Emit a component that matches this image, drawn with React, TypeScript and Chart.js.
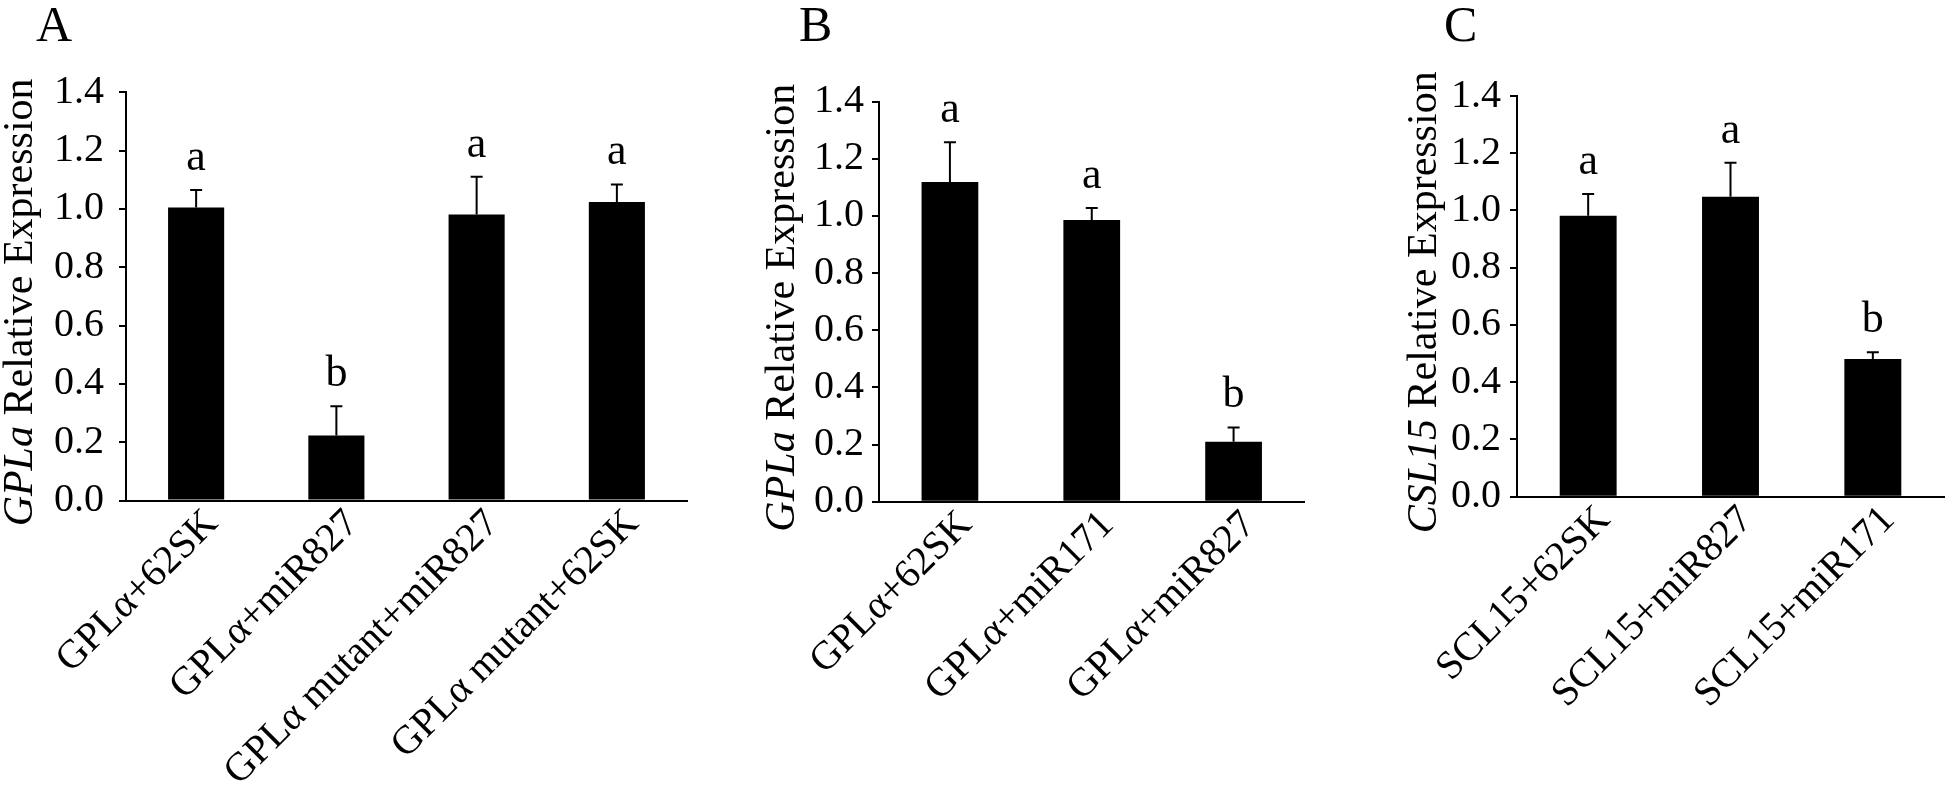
import React, { useEffect, useRef } from "react";
import { Chart, registerables } from "chart.js";

Chart.register(...registerables);

const FONT = "'Liberation Serif', 'Times New Roman', serif";

// ---- data ----
const yTickLabels = ["0.0", "0.2", "0.4", "0.6", "0.8", "1.0", "1.2", "1.4"];

const catsA = ["GPLα+62SK", "GPLα+miR827", "GPLα mutant+miR827", "GPLα mutant+62SK"];
const valsA = [1.005, 0.223, 0.981, 1.024];
const errA = [0.06, 0.1, 0.129, 0.06];
const sigA = ["a", "b", "a", "a"];

const catsB = ["GPLα+62SK", "GPLα+miR171", "GPLα+miR827"];
const valsB = [1.119, 0.986, 0.21];
const errB = [0.139, 0.042, 0.05];
const sigB = ["a", "a", "b"];

const catsC = ["SCL15+62SK", "SCL15+miR827", "SCL15+miR171"];
const valsC = [0.982, 1.048, 0.481];
const errC = [0.076, 0.119, 0.024];
const sigC = ["a", "a", "b"];

const titleA = [{ t: "GPLa", it: true }, { t: " Relative Expression", it: false }];
const titleB = [{ t: "GPLa", it: true }, { t: " Relative Expression", it: false }];
const titleC = [{ t: "CSL15", it: true }, { t: " Relative Expression", it: false }];

type Panel = {
  letter: string;
  cats: string[];
  vals: number[];
  errs: number[];
  sig: string[];
  title: { t: string; it: boolean }[];
  left: number;
  width: number;
  chartLeft: number;
  chartRight: number;
  chartTop: number;
  chartBottom: number;
  tickPad: number;
  titleX: number;
  letterX: number;
};

const H = 788;

const panels: Panel[] = [
  { letter: "A", cats: catsA, vals: valsA, errs: errA, sig: sigA, title: titleA,
    left: 0, width: 700, chartLeft: 126, chartRight: 687, chartTop: 92.3, chartBottom: 500.5,
    tickPad: 15, titleX: 32, letterX: 36 },
  { letter: "B", cats: catsB, vals: valsB, errs: errB, sig: sigB, title: titleB,
    left: 700, width: 640, chartLeft: 179, chartRight: 604.5, chartTop: 101.7, chartBottom: 501.7,
    tickPad: 8, titleX: 94, letterX: 99 },
  { letter: "C", cats: catsC, vals: valsC, errs: errC, sig: sigC, title: titleC,
    left: 1340, width: 606, chartLeft: 177, chartRight: 604, chartTop: 96, chartBottom: 496.7,
    tickPad: 9, titleX: 96, letterX: 104 },
];

function PanelChart({ p }: { p: Panel }) {
  const ref = useRef<HTMLCanvasElement | null>(null);
  useEffect(() => {
    if (!ref.current) return;
    const decor = {
      id: "decor",
      afterDatasetsDraw(chart: any) {
        const ctx = chart.ctx;
        const xs = chart.scales.x;
        const ys = chart.scales.y;
        ctx.save();
        ctx.strokeStyle = "#000";
        ctx.lineWidth = 2;
        p.vals.forEach((v, i) => {
          const x = xs.getPixelForValue(i);
          const y0 = ys.getPixelForValue(v);
          const y1 = ys.getPixelForValue(v + p.errs[i]);
          ctx.beginPath();
          ctx.moveTo(x, y0);
          ctx.lineTo(x, y1);
          ctx.moveTo(x - 6, y1);
          ctx.lineTo(x + 6, y1);
          ctx.stroke();
          ctx.fillStyle = "#000";
          ctx.font = `44px ${FONT}`;
          ctx.textAlign = "center";
          ctx.textBaseline = "alphabetic";
          ctx.fillText(p.sig[i], x, y1 - 20);
        });
        ctx.restore();
      },
      afterDraw(chart: any) {
        const ctx = chart.ctx;
        const area = chart.chartArea;
        ctx.save();
        ctx.fillStyle = "#000";
        // panel letter
        ctx.font = `50px ${FONT}`;
        ctx.textAlign = "left";
        ctx.textBaseline = "alphabetic";
        ctx.fillText(p.letter, p.letterX, 41);
        // y title (mixed italic)
        const cy = (area.top + area.bottom) / 2 + 6;
        ctx.translate(p.titleX, cy);
        ctx.rotate(-Math.PI / 2);
        let total = 0;
        const widths = p.title.map((part) => {
          ctx.font = `${part.it ? "italic " : ""}42px ${FONT}`;
          const w = ctx.measureText(part.t).width;
          total += w;
          return w;
        });
        let x = -total / 2;
        p.title.forEach((part, i) => {
          ctx.font = `${part.it ? "italic " : ""}42px ${FONT}`;
          ctx.fillText(part.t, x, 0);
          x += widths[i];
        });
        ctx.restore();
      },
    };

    const chart = new Chart(ref.current, {
      type: "bar",
      data: {
        labels: p.cats,
        datasets: [
          {
            data: p.vals,
            backgroundColor: "#000",
            borderWidth: 0,
            barPercentage: 0.4,
            categoryPercentage: 1.0,
          },
        ],
      },
      options: {
        responsive: false,
        maintainAspectRatio: false,
        animation: false,
        devicePixelRatio: 1,
        layout: {
          padding: { left: 0, top: p.chartTop, right: p.width - p.chartRight, bottom: 0 },
        },
        plugins: { legend: { display: false }, tooltip: { enabled: false }, title: { display: false } },
        scales: {
          x: {
            type: "category",
            grid: { display: false, drawTicks: false },
            border: { display: true, color: "#000", width: 2 },
            ticks: {
              color: "#000",
              font: { family: FONT, size: 40 },
              minRotation: 45,
              maxRotation: 45,
              autoSkip: false,
              padding: 0,
              labelOffset: 16,
            },
            afterFit: (s: any) => {
              s.height = H - p.chartBottom;
            },
          },
          y: {
            min: 0,
            max: 1.4,
            grid: { drawOnChartArea: false, drawTicks: true, tickLength: 7, color: "#000", lineWidth: 2 },
            border: { display: true, color: "#000", width: 2 },
            ticks: {
              color: "#000",
              font: { family: FONT, size: 40 },
              padding: p.tickPad,
              callback: (_v: any, i: number) => yTickLabels[i],
            },
            afterBuildTicks: (s: any) => {
              s.ticks = yTickLabels.map((t) => ({ value: parseFloat(t) }));
            },
            afterFit: (s: any) => {
              s.width = p.chartLeft;
            },
          },
        },
      } as any,
      plugins: [decor],
    });
    return () => chart.destroy();
  }, [p]);

  return (
    <canvas
      ref={ref}
      width={p.width}
      height={H}
      style={{ position: "absolute", left: p.left, top: 0, width: p.width, height: H }}
    />
  );
}

export default function App() {
  return (
    <div style={{ position: "absolute", left: 0, top: 0, width: 1946, height: H, background: "#fff" }}>
      {panels.map((p) => (
        <PanelChart key={p.letter} p={p} />
      ))}
    </div>
  );
}
